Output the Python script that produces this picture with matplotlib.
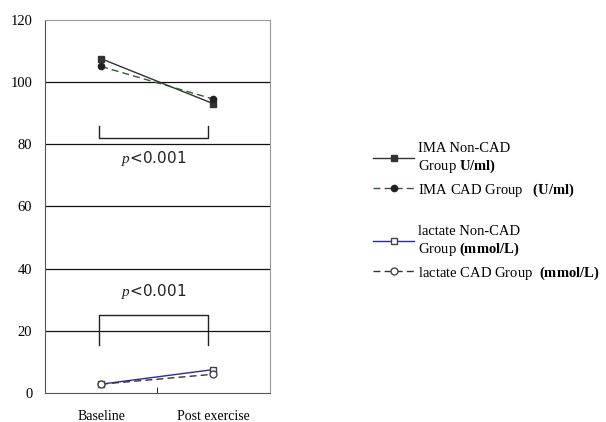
import matplotlib.pyplot as plt
from matplotlib.lines import Line2D

plt.rcParams['font.family'] = ['Liberation Serif', 'DejaVu Serif']
plt.rcParams['mathtext.fontset'] = 'custom'
plt.rcParams['mathtext.rm'] = 'Liberation Serif'
plt.rcParams['mathtext.it'] = 'Liberation Serif:italic'
plt.rcParams['mathtext.bf'] = 'Liberation Serif:bold'

categories = ['Baseline', 'Post exercise']
ima_non_cad = [107.5, 93.0]
ima_cad = [105.0, 94.5]
lactate_non_cad = [2.8, 7.5]
lactate_cad = [2.8, 6.0]
labels = ['IMA Non-CAD\nGroup $\\mathbf{U/ml)}$',
          'IMA CAD Group   $\\mathbf{(U/ml)}$',
          'lactate Non-CAD\nGroup $\\mathbf{(mmol/L)}$',
          'lactate CAD Group  $\\mathbf{(mmol/L)}$']
yticks = [0, 20, 40, 60, 80, 100, 120]

fig = plt.figure(figsize=(6.06, 4.22), dpi=100)
ax = fig.add_axes([0.074, 0.069, 0.371, 0.884])

x = [0.5, 1.5]
l1, = ax.plot(x, ima_non_cad, '-', color='#333333', lw=1, marker='s', ms=5,
              mfc='#333333', mec='#333333')
l2, = ax.plot(x, ima_cad, '--', color='#2e5e2e', lw=1, marker='o', ms=4.5,
              mfc='#222222', mec='#222222', dashes=(5, 3))
l3, = ax.plot(x, lactate_non_cad, '-', color='#2b2b9a', lw=1, marker='s', ms=5,
              mfc='white', mec='#444444')
l4, = ax.plot(x, lactate_cad, '--', color='#333333', lw=1, marker='o', ms=5,
              mfc='white', mec='#444444', dashes=(5, 3))

# significance brackets
ax.plot([0.48, 0.48, 1.45, 1.45], [86, 82, 82, 86], color='#222222', lw=1)
ax.plot([0.48, 0.48, 1.45, 1.45], [15.5, 25, 25, 15.5], color='#222222', lw=1)
ax.text(0.97, 75.5, '$\\mathit{p}$<0.001', ha='center', va='center', fontsize=11,
        family=['DejaVu Sans'], color='#222222')
ax.text(0.97, 32.5, '$\\mathit{p}$<0.001', ha='center', va='center', fontsize=11,
        family=['DejaVu Sans'], color='#222222')

ax.set_xlim(0, 2)
ax.set_ylim(0, 120)
ax.set_yticks(yticks)
ax.set_xticks(x)
ax.set_xticklabels(categories, fontsize=10)
ax.tick_params(axis='x', length=0, pad=12)
ax.tick_params(axis='y', length=0, labelsize=10.5, pad=9)
ax.set_xticks([1], minor=True)
ax.tick_params(axis='x', which='minor', direction='in', length=4)
for yv in yticks[1:-1]:
    ax.axhline(yv, color='#111111', lw=0.9, zorder=0)
for s in ['top', 'right']:
    ax.spines[s].set_color('#999999')
for s in ['left', 'bottom']:
    ax.spines[s].set_color('#555555')

blank = Line2D([], [], color='none')
fig.legend([l1, l2, blank, l3, l4], [labels[0], labels[1], '', labels[2], labels[3]],
           loc='upper left', bbox_to_anchor=(0.594, 0.695), frameon=False,
           fontsize=10.5, handlelength=2.8, handletextpad=0.3, labelspacing=0.45)

fig.savefig('out.png', dpi=100)
